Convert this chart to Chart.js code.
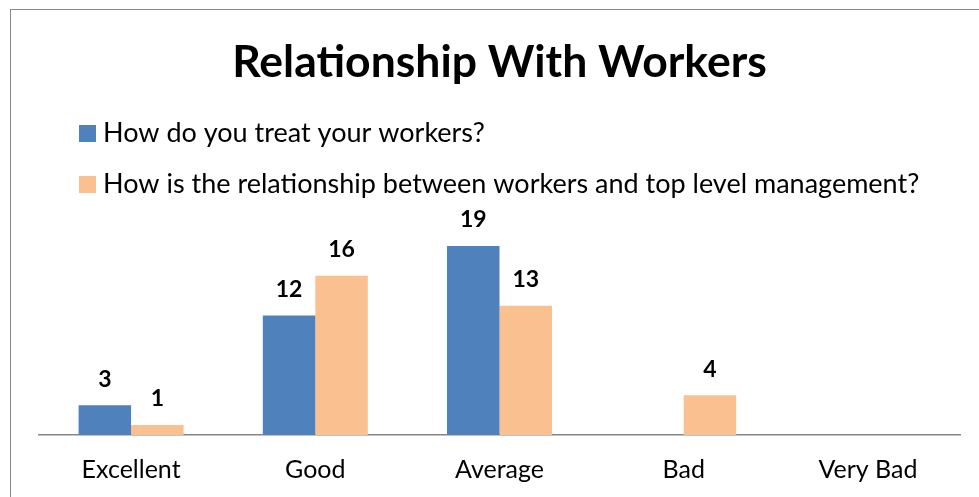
<!DOCTYPE html>
<html>
<head>
<meta charset="utf-8">
<title>Relationship With Workers</title>
<script src="https://cdn.jsdelivr.net/npm/chart.js@4"></script>
<style>
  body { margin: 0; background: #fff; }
  #wrap { position: relative; width: 979px; height: 497px; }
  #frame { position: absolute; left: 10px; top: 9px; right: -2px; bottom: -2px; border-left: 1px solid #888; border-top: 1px solid #888; }
  #chart { position: absolute; left: 0; top: 0; }
</style>
</head>
<body>
<div id="wrap">
  <div id="frame"></div>
  <canvas id="chart" width="979" height="497"></canvas>
</div>
<script>
const categories = ["Excellent", "Good", "Average", "Bad", "Very Bad"];
const treatWorkers = [3, 12, 19, 0, 0];
const topManagement = [1, 16, 13, 4, 0];
const seriesNames = [
  "How do you treat your workers?",
  "How is the relationship between workers and top level management?"
];

const FONT = "Lato";

// value written above each bar (empty bars get no label)
const valueLabels = {
  id: "valueLabels",
  afterDatasetsDraw(chart) {
    const ctx = chart.ctx;
    ctx.save();
    ctx.font = "bold 23px " + FONT;
    ctx.fillStyle = "#000";
    ctx.textAlign = "center";
    ctx.textBaseline = "middle";
    chart.data.datasets.forEach((ds, i) => {
      chart.getDatasetMeta(i).data.forEach((bar, j) => {
        if (!ds.data[j]) return;
        ctx.fillText(ds.data[j], bar.x, bar.y - 26);
      });
    });
    ctx.restore();
  }
};

// push the legend in a bit from the plot's left edge
const legendIndent = {
  id: "legendIndent",
  afterUpdate(chart) {
    chart.legend.left += 22.5;
    chart.legend.right += 22.5;
  }
};

new Chart(document.getElementById("chart").getContext("2d"), {
  type: "bar",
  data: {
    labels: categories,
    datasets: [
      { label: seriesNames[0], data: treatWorkers, backgroundColor: "#4F81BD" },
      { label: seriesNames[1], data: topManagement, backgroundColor: "#FAC090" }
    ]
  },
  options: {
    responsive: false,
    animation: false,
    datasets: { bar: { barPercentage: 1, categoryPercentage: 0.57 } },
    layout: { padding: { left: 39, right: 19, top: 36, bottom: 0 } },
    plugins: {
      title: {
        display: true,
        text: "Relationship With Workers",
        color: "#000",
        font: { family: FONT, size: 44.5, weight: "bold" },
        padding: { top: 0, bottom: 6.6 }
      },
      legend: {
        position: "top",
        align: "start",
        weight: 1800,
        labels: {
          color: "#000",
          font: { family: FONT, size: 27 },
          usePointStyle: true,
          pointStyle: "rect",
          boxWidth: 4,
          boxHeight: 17,
          padding: 24
        }
      },
      // empty subtitle sitting under the legend, used as a gap above the bars
      subtitle: {
        display: true,
        text: "",
        weight: 1500,
        font: { size: 10 },
        padding: { top: 0, bottom: 16 }
      },
      tooltip: { enabled: false }
    },
    scales: {
      x: {
        grid: { display: false },
        border: { color: "#868686", width: 1.5 },
        ticks: { color: "#000", font: { family: FONT, size: 25 }, padding: 12 }
      },
      y: { display: false, min: 0, max: 20 }
    }
  },
  plugins: [valueLabels, legendIndent]
});
</script>
</body>
</html>
